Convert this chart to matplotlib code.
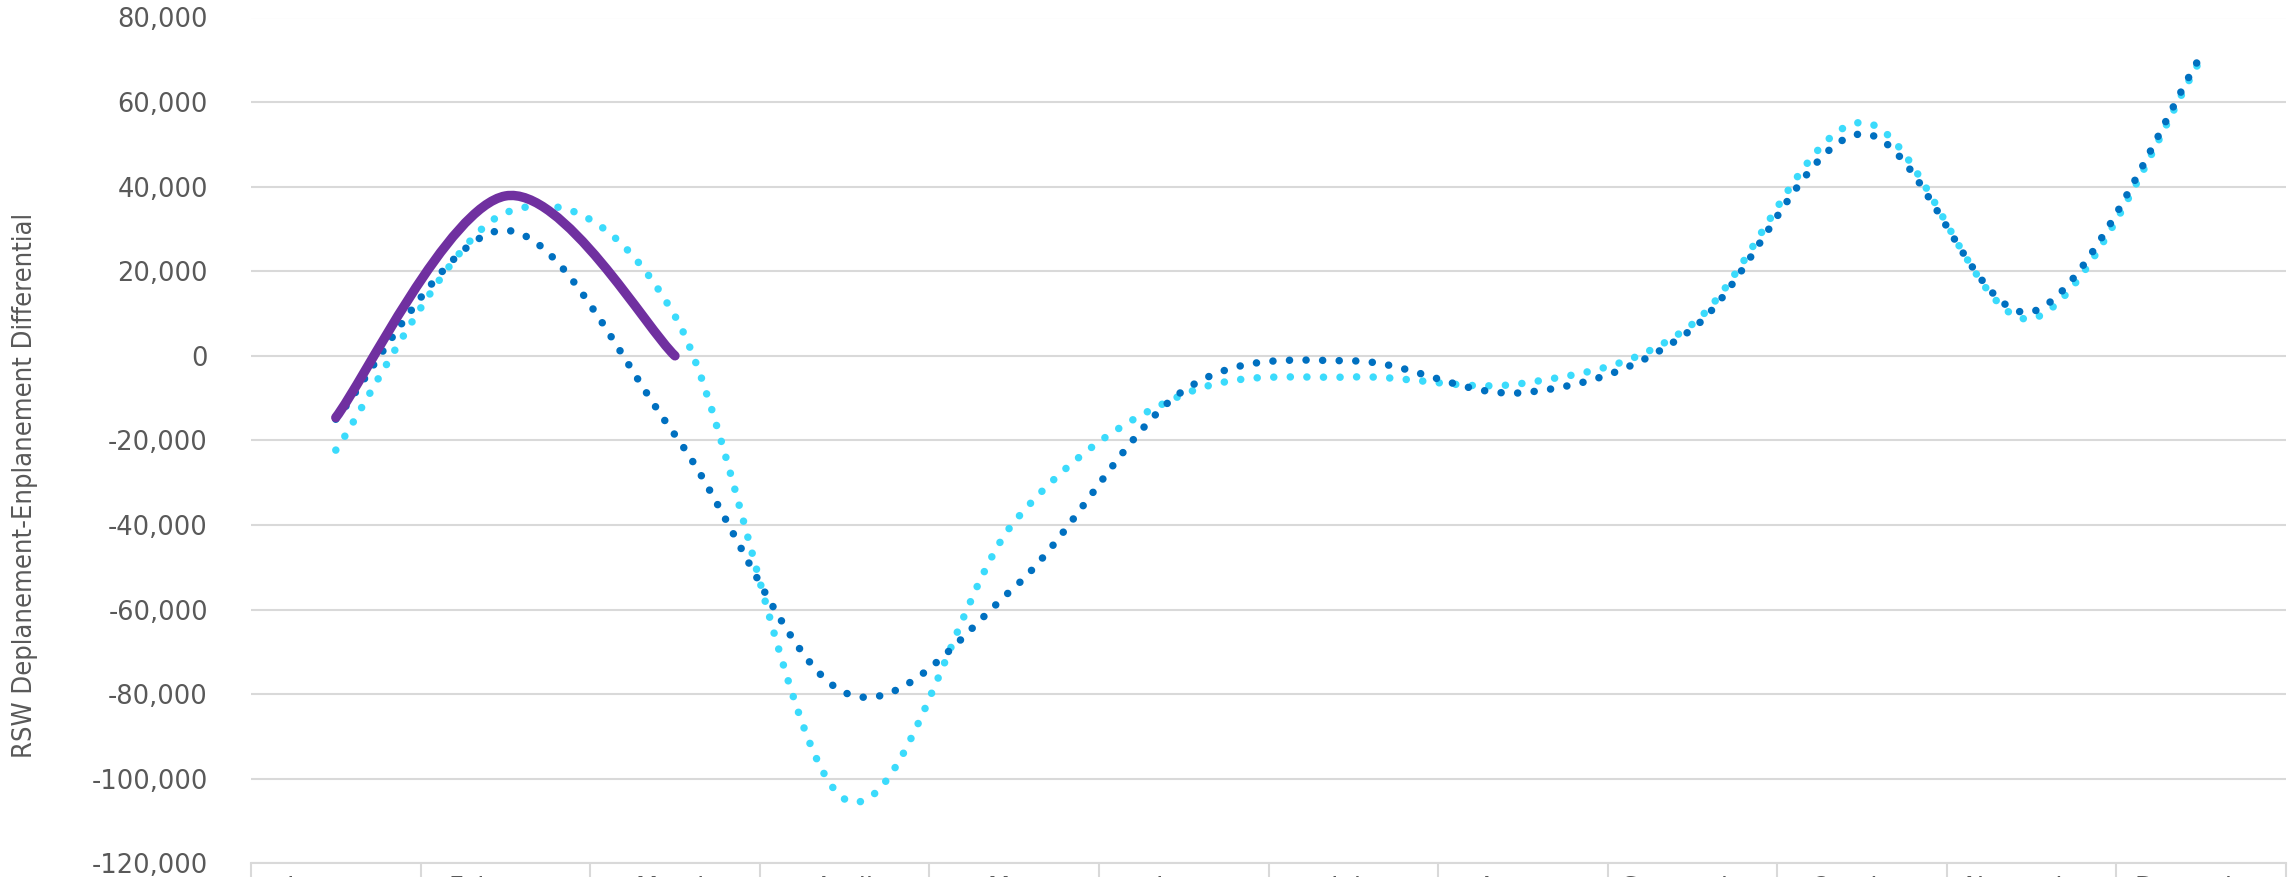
import matplotlib
matplotlib.use("Agg")
import matplotlib.pyplot as plt
import numpy as np
from matplotlib.path import Path
from matplotlib.patches import PathPatch

months = ["January", "February", "March", "April", "May", "June",
          "July", "August", "September", "October", "November", "December"]

# three series, values
series_dark = [-15000, 29700, -18700, -79600, -54800, -8200,
               -1200, -8700, 6400, 52500, 10400, 71000]
series_cyan = [-22300, 33800, 9400, -104800, -39300, -9100,
               -5000, -6500, 7500, 55200, 8800, 70200]
series_purple = [-14600, 37800, 0]

y_ticks = list(range(-120000, 80001, 20000))

TEXT = "#595959"
GRID = "#D9D9D9"


def smooth_path(ys):
    # Excel-style smoothed line as cubic bezier segments
    pts = np.column_stack([np.arange(len(ys)), np.asarray(ys, float)])
    n = len(pts)
    verts, codes = [pts[0]], [Path.MOVETO]
    for i in range(n - 1):
        p0 = pts[max(i - 1, 0)]
        p1 = pts[i]
        p2 = pts[i + 1]
        p3 = pts[min(i + 2, n - 1)]
        verts += [p1 + (p2 - p0) / 6, p2 - (p3 - p1) / 6, p2]
        codes += [Path.CURVE4] * 3
    return Path(verts, codes)


fig = plt.figure(figsize=(22.9, 8.77), dpi=100)
ax = fig.add_axes([251 / 2290, (877 - 863.3) / 877, 2035 / 2290, 845.8 / 877])

dot = (0, (0.01, 2.2))
for ys, color, ls, lw, z in [
    (series_cyan, "#3BDBFC", dot, 5.4, 3),
    (series_dark, "#0070C0", dot, 5.4, 4),
    (series_purple, "#7030A0", "-", 6.8, 5),
]:
    patch = PathPatch(smooth_path(ys), fill=False, edgecolor=color,
                      lw=lw, ls=ls, capstyle="round", joinstyle="round",
                      zorder=z)
    ax.add_patch(patch)

ax.set_xlim(-0.5, 11.5)
ax.set_ylim(-120000, 80000)

ax.set_yticks(y_ticks)
ax.set_yticklabels([f"{v:,}" for v in y_ticks])
ax.yaxis.grid(True, color=GRID, lw=1.5)
ax.set_axisbelow(True)
ax.tick_params(axis="y", length=0, pad=31, labelsize=18.5, labelcolor=TEXT)

# category boundaries as tick marks, month names at centres
ax.set_xticks(np.arange(-0.5, 12, 1))
ax.set_xticklabels([])
ax.set_xticks(np.arange(12), minor=True)
ax.set_xticklabels(months, minor=True)
ax.tick_params(axis="x", which="major", length=20, width=1.5, color=GRID)
ax.tick_params(axis="x", which="minor", length=0, pad=9,
               labelsize=18.5, labelcolor=TEXT)

for s in ["left", "right", "top"]:
    ax.spines[s].set_visible(False)
ax.spines["bottom"].set_color(GRID)
ax.spines["bottom"].set_linewidth(1.5)

fig.text(25 / 2290, 1 - 485 / 877, "RSW Deplanement-Enplanement Differential",
         rotation=90, ha="center", va="center", fontsize=19.5, color=TEXT,
         family=["DejaVu Sans"], fontstretch="condensed")

fig.savefig("out.png", dpi=100)
